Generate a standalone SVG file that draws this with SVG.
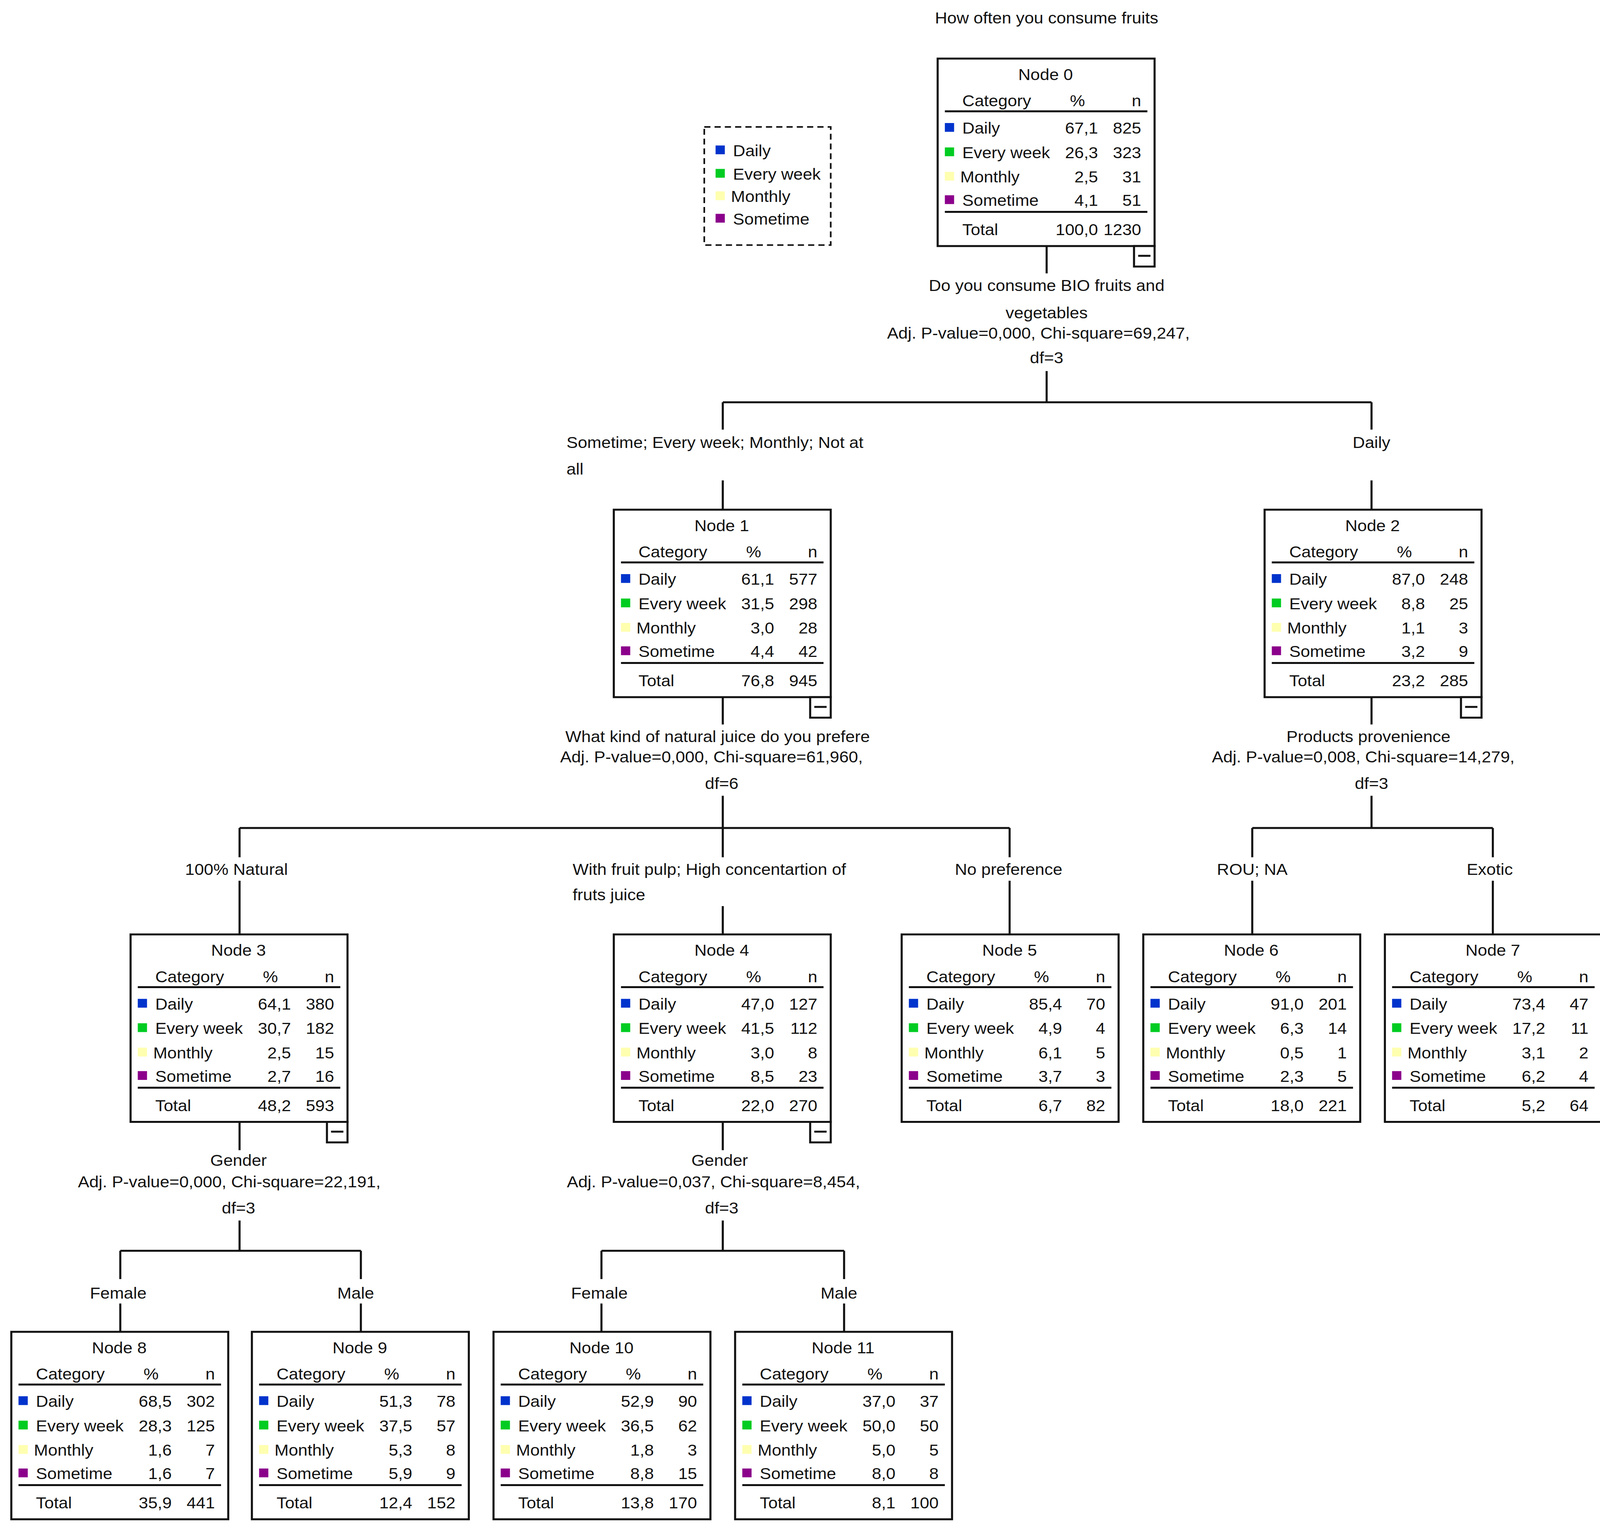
<svg xmlns="http://www.w3.org/2000/svg" width="4127" height="3920" viewBox="0 0 4127 3920">
<style>
text{font-family:"Liberation Sans",Arial,sans-serif;font-size:16.5px;fill:#111}
.m{text-anchor:middle}.e{text-anchor:end}
.b{fill:#fff;stroke:#111;stroke-width:2}
.l{stroke:#111;stroke-width:2;fill:none}
.c1{fill:#0033cc}.c2{fill:#00cc22}.c3{fill:#ffffb0}.c4{fill:#8b008b}
</style>
<defs>
<g id="frame">
<rect class="b" x="0" y="0" width="211" height="192"/>
<line class="l" x1="7" y1="54" x2="204" y2="54"/>
<line class="l" x1="7" y1="157" x2="204" y2="157"/>
<text x="24" y="49">Category</text><text class="m" x="136" y="49">%</text><text class="e" x="198" y="49">n</text>
<rect class="c1" x="7" y="66" width="9" height="9"/>
<rect class="c2" x="7" y="91" width="9" height="9"/>
<rect class="c3" x="7" y="116" width="9" height="9"/>
<rect class="c4" x="7" y="140" width="9" height="9"/>
<text x="24" y="77">Daily</text><text x="24" y="102">Every week</text><text x="22" y="127">Monthly</text><text x="24" y="151">Sometime</text><text x="24" y="181">Total</text>
</g>
<g id="minus"><rect class="b" x="191" y="192" width="20" height="21"/><line class="l" x1="195" y1="202" x2="207" y2="202"/></g>
</defs>
<rect width="4127" height="3920" fill="#fff"/>
<g transform="scale(2.632,2.5)">
<g id="connectors">
<path class="l" d="M1018 252V280M1018 380V412M703 412H1334M703 412V440M1334 412V440M703 492V522M1334 492V522"/>
<path class="l" d="M703 713V742M703 815V848M233 848H982M233 848V878M703 848V878M982 848V878M233 902V957M703 928V957M982 902V957"/>
<path class="l" d="M1334 713V742M1334 815V848M1218 848H1452M1218 848V878M1452 848V878M1218 902V957M1452 902V957"/>
<path class="l" d="M233 1148V1178M233 1250V1281M117 1281H351M117 1281V1310M351 1281V1310M117 1335V1364M351 1335V1364"/>
<path class="l" d="M703 1148V1178M703 1250V1281M585 1281H821M585 1281V1310M821 1281V1310M585 1335V1364M821 1335V1364"/>
</g>
<g id="labels">
<text class="m" x="1018" y="24">How often you consume fruits</text>
<text class="m" x="1018" y="298">Do you consume BIO fruits and</text>
<text class="m" x="1018" y="326">vegetables</text>
<text class="m" x="1010" y="347">Adj. P-value=0,000, Chi-square=69,247,</text>
<text class="m" x="1018" y="372">df=3</text>
<text x="551" y="459">Sometime; Every week; Monthly; Not at</text>
<text x="551" y="486">all</text>
<text class="m" x="1334" y="459">Daily</text>
<text class="m" x="698" y="760">What kind of natural juice do you prefere</text>
<text class="m" x="692" y="781">Adj. P-value=0,000, Chi-square=61,960,</text>
<text class="m" x="702" y="808">df=6</text>
<text class="m" x="1331" y="760">Products provenience</text>
<text class="m" x="1326" y="781">Adj. P-value=0,008, Chi-square=14,279,</text>
<text class="m" x="1334" y="808">df=3</text>
<text class="m" x="230" y="896">100% Natural</text>
<text x="557" y="896">With fruit pulp; High concentartion of</text>
<text x="557" y="922">fruts  juice</text>
<text class="m" x="981" y="896">No preference</text>
<text class="m" x="1218" y="896">ROU; NA</text>
<text class="m" x="1449" y="896">Exotic</text>
<text class="m" x="232" y="1194">Gender</text>
<text class="m" x="223" y="1216">Adj. P-value=0,000, Chi-square=22,191,</text>
<text class="m" x="232" y="1243">df=3</text>
<text class="m" x="700" y="1194">Gender</text>
<text class="m" x="694" y="1216">Adj. P-value=0,037, Chi-square=8,454,</text>
<text class="m" x="702" y="1243">df=3</text>
<text class="m" x="115" y="1330">Female</text>
<text class="m" x="346" y="1330">Male</text>
<text class="m" x="583" y="1330">Female</text>
<text class="m" x="816" y="1330">Male</text>
</g>
<g id="legend">
<rect x="685" y="130" width="123" height="121" fill="#fff" stroke="#111" stroke-width="1.6" stroke-dasharray="6,4"/>
<rect class="c1" x="696" y="149" width="9" height="9"/><text x="713" y="160">Daily</text>
<rect class="c2" x="696" y="173" width="9" height="9"/><text x="713" y="184">Every week</text>
<rect class="c3" x="696" y="196" width="9" height="9"/><text x="711" y="207">Monthly</text>
<rect class="c4" x="696" y="219" width="9" height="9"/><text x="713" y="230">Sometime</text>
</g>
<g id="node0" transform="translate(912,60)"><use href="#frame"/><use href="#minus"/><text class="m" x="105" y="22">Node 0</text>
<g class="e"><text class="e" x="156" y="77">67,1</text><text class="e" x="198" y="77">825</text><text class="e" x="156" y="102">26,3</text><text class="e" x="198" y="102">323</text><text class="e" x="156" y="127">2,5</text><text class="e" x="198" y="127">31</text><text class="e" x="156" y="151">4,1</text><text class="e" x="198" y="151">51</text><text class="e" x="156" y="181">100,0</text><text class="e" x="198" y="181">1230</text></g></g>
<g id="node1" transform="translate(597,522)"><use href="#frame"/><use href="#minus"/><text class="m" x="105" y="22">Node 1</text>
<text class="e" x="156" y="77">61,1</text><text class="e" x="198" y="77">577</text><text class="e" x="156" y="102">31,5</text><text class="e" x="198" y="102">298</text><text class="e" x="156" y="127">3,0</text><text class="e" x="198" y="127">28</text><text class="e" x="156" y="151">4,4</text><text class="e" x="198" y="151">42</text><text class="e" x="156" y="181">76,8</text><text class="e" x="198" y="181">945</text></g>
<g id="node2" transform="translate(1230,522)"><use href="#frame"/><use href="#minus"/><text class="m" x="105" y="22">Node 2</text>
<text class="e" x="156" y="77">87,0</text><text class="e" x="198" y="77">248</text><text class="e" x="156" y="102">8,8</text><text class="e" x="198" y="102">25</text><text class="e" x="156" y="127">1,1</text><text class="e" x="198" y="127">3</text><text class="e" x="156" y="151">3,2</text><text class="e" x="198" y="151">9</text><text class="e" x="156" y="181">23,2</text><text class="e" x="198" y="181">285</text></g>
<g id="node3" transform="translate(127,957)"><use href="#frame"/><use href="#minus"/><text class="m" x="105" y="22">Node 3</text>
<text class="e" x="156" y="77">64,1</text><text class="e" x="198" y="77">380</text><text class="e" x="156" y="102">30,7</text><text class="e" x="198" y="102">182</text><text class="e" x="156" y="127">2,5</text><text class="e" x="198" y="127">15</text><text class="e" x="156" y="151">2,7</text><text class="e" x="198" y="151">16</text><text class="e" x="156" y="181">48,2</text><text class="e" x="198" y="181">593</text></g>
<g id="node4" transform="translate(597,957)"><use href="#frame"/><use href="#minus"/><text class="m" x="105" y="22">Node 4</text>
<text class="e" x="156" y="77">47,0</text><text class="e" x="198" y="77">127</text><text class="e" x="156" y="102">41,5</text><text class="e" x="198" y="102">112</text><text class="e" x="156" y="127">3,0</text><text class="e" x="198" y="127">8</text><text class="e" x="156" y="151">8,5</text><text class="e" x="198" y="151">23</text><text class="e" x="156" y="181">22,0</text><text class="e" x="198" y="181">270</text></g>
<g id="node5" transform="translate(877,957)"><use href="#frame"/><text class="m" x="105" y="22">Node 5</text>
<text class="e" x="156" y="77">85,4</text><text class="e" x="198" y="77">70</text><text class="e" x="156" y="102">4,9</text><text class="e" x="198" y="102">4</text><text class="e" x="156" y="127">6,1</text><text class="e" x="198" y="127">5</text><text class="e" x="156" y="151">3,7</text><text class="e" x="198" y="151">3</text><text class="e" x="156" y="181">6,7</text><text class="e" x="198" y="181">82</text></g>
<g id="node6" transform="translate(1112,957)"><use href="#frame"/><text class="m" x="105" y="22">Node 6</text>
<text class="e" x="156" y="77">91,0</text><text class="e" x="198" y="77">201</text><text class="e" x="156" y="102">6,3</text><text class="e" x="198" y="102">14</text><text class="e" x="156" y="127">0,5</text><text class="e" x="198" y="127">1</text><text class="e" x="156" y="151">2,3</text><text class="e" x="198" y="151">5</text><text class="e" x="156" y="181">18,0</text><text class="e" x="198" y="181">221</text></g>
<g id="node7" transform="translate(1347,957)"><use href="#frame"/><text class="m" x="105" y="22">Node 7</text>
<text class="e" x="156" y="77">73,4</text><text class="e" x="198" y="77">47</text><text class="e" x="156" y="102">17,2</text><text class="e" x="198" y="102">11</text><text class="e" x="156" y="127">3,1</text><text class="e" x="198" y="127">2</text><text class="e" x="156" y="151">6,2</text><text class="e" x="198" y="151">4</text><text class="e" x="156" y="181">5,2</text><text class="e" x="198" y="181">64</text></g>
<g id="node8" transform="translate(11,1364)"><use href="#frame"/><text class="m" x="105" y="22">Node 8</text>
<text class="e" x="156" y="77">68,5</text><text class="e" x="198" y="77">302</text><text class="e" x="156" y="102">28,3</text><text class="e" x="198" y="102">125</text><text class="e" x="156" y="127">1,6</text><text class="e" x="198" y="127">7</text><text class="e" x="156" y="151">1,6</text><text class="e" x="198" y="151">7</text><text class="e" x="156" y="181">35,9</text><text class="e" x="198" y="181">441</text></g>
<g id="node9" transform="translate(245,1364)"><use href="#frame"/><text class="m" x="105" y="22">Node 9</text>
<text class="e" x="156" y="77">51,3</text><text class="e" x="198" y="77">78</text><text class="e" x="156" y="102">37,5</text><text class="e" x="198" y="102">57</text><text class="e" x="156" y="127">5,3</text><text class="e" x="198" y="127">8</text><text class="e" x="156" y="151">5,9</text><text class="e" x="198" y="151">9</text><text class="e" x="156" y="181">12,4</text><text class="e" x="198" y="181">152</text></g>
<g id="node10" transform="translate(480,1364)"><use href="#frame"/><text class="m" x="105" y="22">Node 10</text>
<text class="e" x="156" y="77">52,9</text><text class="e" x="198" y="77">90</text><text class="e" x="156" y="102">36,5</text><text class="e" x="198" y="102">62</text><text class="e" x="156" y="127">1,8</text><text class="e" x="198" y="127">3</text><text class="e" x="156" y="151">8,8</text><text class="e" x="198" y="151">15</text><text class="e" x="156" y="181">13,8</text><text class="e" x="198" y="181">170</text></g>
<g id="node11" transform="translate(715,1364)"><use href="#frame"/><text class="m" x="105" y="22">Node 11</text>
<text class="e" x="156" y="77">37,0</text><text class="e" x="198" y="77">37</text><text class="e" x="156" y="102">50,0</text><text class="e" x="198" y="102">50</text><text class="e" x="156" y="127">5,0</text><text class="e" x="198" y="127">5</text><text class="e" x="156" y="151">8,0</text><text class="e" x="198" y="151">8</text><text class="e" x="156" y="181">8,1</text><text class="e" x="198" y="181">100</text></g>
</g>
</svg>
